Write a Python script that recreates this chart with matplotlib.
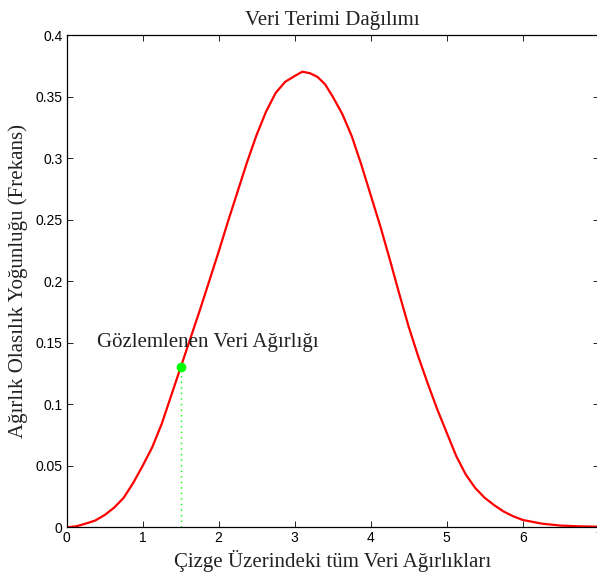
import matplotlib
matplotlib.use('Agg')
import matplotlib.pyplot as plt

# Curve
weights = [0.0, 0.125, 0.25, 0.375, 0.5, 0.625, 0.75, 0.875, 1.0, 1.125, 1.25, 1.375,
           1.5, 1.625, 1.75, 1.875, 2.0, 2.125, 2.25, 2.375, 2.5, 2.625, 2.75, 2.875,
           3.0, 3.1, 3.2, 3.3, 3.4, 3.5, 3.625, 3.75, 3.875, 4.0, 4.125, 4.25, 4.375,
           4.5, 4.625, 4.75, 4.875, 5.0, 5.125, 5.25, 5.375, 5.5, 5.625, 5.75, 5.875,
           6.0, 6.25, 6.5, 6.75, 7.0]
density = [0.0, 0.0008, 0.003, 0.0055, 0.010, 0.016, 0.024, 0.036, 0.050, 0.065, 0.084,
           0.107, 0.130, 0.153, 0.176, 0.200, 0.224, 0.249, 0.273, 0.297, 0.319, 0.338,
           0.353, 0.362, 0.3667, 0.3702, 0.369, 0.366, 0.360, 0.350, 0.336, 0.318,
           0.295, 0.270, 0.245, 0.218, 0.190, 0.163, 0.139, 0.117, 0.096, 0.077, 0.058,
           0.043, 0.032, 0.024, 0.018, 0.0128, 0.009, 0.006, 0.003, 0.0014, 0.0008,
           0.0005]

obs_weight = 1.5
obs_density = 0.13

x_ticks = [0, 1, 2, 3, 4, 5, 6, 7]
x_tick_labels = ['0', '1', '2', '3', '4', '5', '6', '7']
y_ticks = [0, 0.05, 0.1, 0.15, 0.2, 0.25, 0.3, 0.35, 0.4]
y_tick_labels = ['0', '0.05', '0.1', '0.15', '0.2', '0.25', '0.3', '0.35', '0.4']

title = 'Veri Terimi Dağılımı'
xlabel = 'Çizge Üzerindeki tüm Veri Ağırlıkları'
ylabel = 'Ağırlık Olasılık Yoğunluğu (Frekans)'
annot = 'Gözlemlenen Veri Ağırlığı'

serif = ['Liberation Serif', 'DejaVu Serif']
sans = ['Liberation Sans', 'DejaVu Sans']

fig = plt.figure(figsize=(5.97, 5.81), dpi=100)
ax = fig.add_axes([0.1117, 0.0924, 0.8911, 0.8473])

ax.plot(weights, density, color='#ff0000', lw=1.6, solid_joinstyle='round')
ax.plot([obs_weight, obs_weight], [0, obs_density], color='#00ff00', ls=(0, (1, 3)), lw=1.0)
ax.plot([obs_weight], [obs_density], 'o', color='#00ff00', ms=6, mec='#00ff00')
ax.text(0.4, 0.15, annot, fontsize=15, family=serif, va='center', ha='left', color='#222222')

ax.set_xlim(0, 7)
ax.set_ylim(0, 0.4)
ax.set_xticks(x_ticks)
ax.set_xticklabels(x_tick_labels, family=sans, fontsize=10)
ax.set_yticks(y_ticks)
ax.set_yticklabels(y_tick_labels, family=sans, fontsize=10)
ax.tick_params(direction='in', top=True, right=True, length=4, width=0.6, pad=3)
for s in ax.spines.values():
    s.set_linewidth(0.9)

ax.set_title(title, family=serif, fontsize=15, pad=7, color='#222222')
ax.set_xlabel(xlabel, family=serif, fontsize=15, labelpad=3, color='#222222')
ax.set_ylabel(ylabel, family=serif, fontsize=15, labelpad=5, color='#222222')

fig.savefig('out.png', dpi=100)
